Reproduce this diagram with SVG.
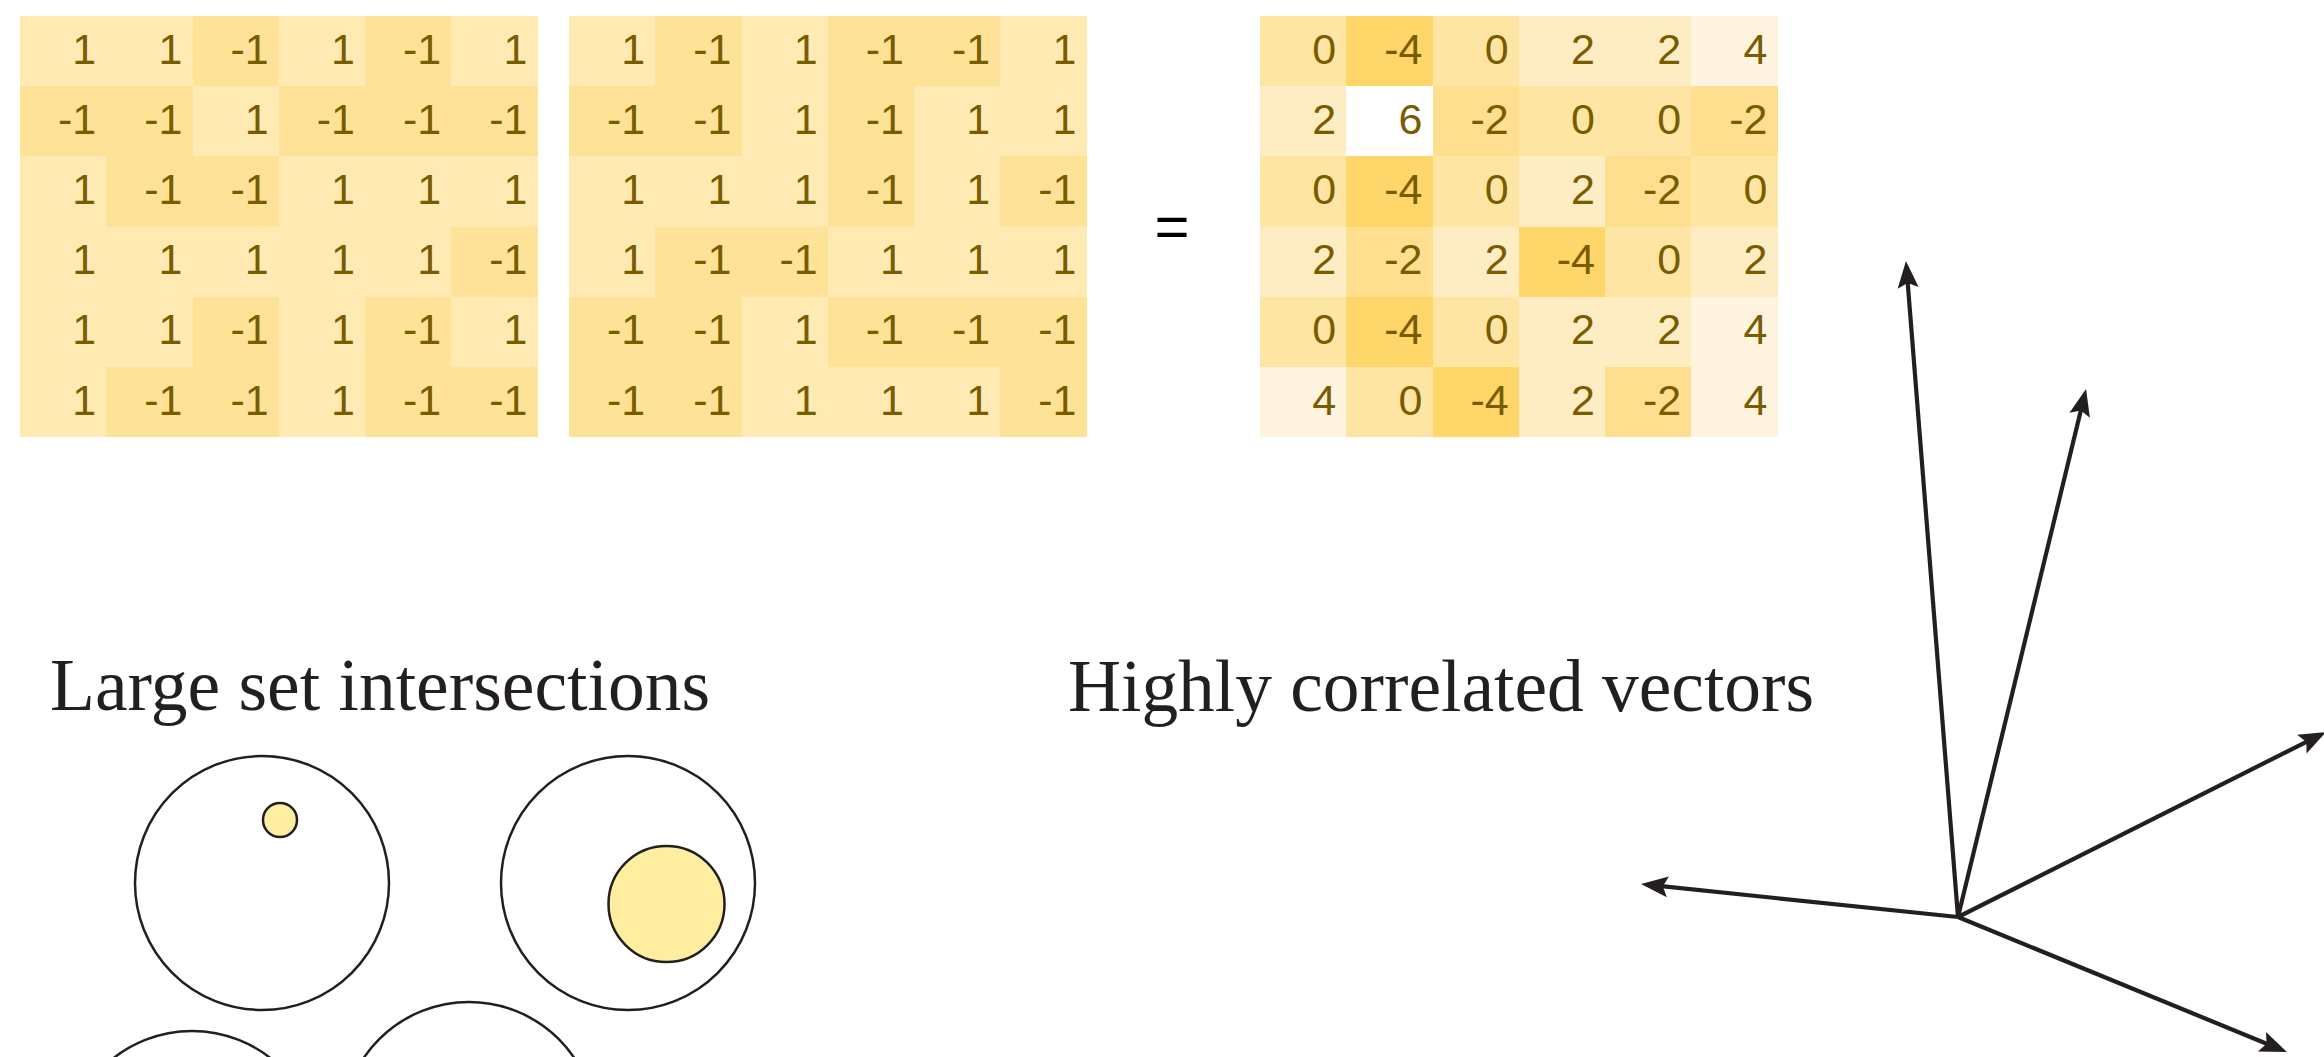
<svg xmlns="http://www.w3.org/2000/svg" width="2324" height="1057" viewBox="0 0 2324 1057">
<style>
.cells rect{shape-rendering:crispEdges}
.num{font-family:"Liberation Sans",Arial,sans-serif;font-size:43px;fill:#7a5c00;text-anchor:end}
.p{fill:#ffeab3}.n{fill:#fee297}
.v6{fill:#ffffff}.v4{fill:#fff4e0}.v2{fill:#feecc2}.v0{fill:#fee5a4}.vm2{fill:#fedf90}.vm4{fill:#ffd669}
.title{font-family:"Liberation Serif","Times New Roman",serif;font-size:73px;fill:#231f20}
.ring{fill:#ffffff;stroke:#231f20;stroke-width:2.5}
.dot{fill:#ffeda0;stroke:#231f20;stroke-width:2.5}
.vec{stroke:#231f20;stroke-width:4.2;fill:none;marker-end:url(#ah)}
</style>
<defs>
<marker id="ah" markerUnits="userSpaceOnUse" viewBox="-12 -12 34 24" markerWidth="34" markerHeight="24" refX="0" refY="0" orient="auto">
<path d="M18,0 L-9,-10.5 L-4,0 L-9,10.5 Z" fill="#231f20"/>
</marker>
</defs>
<rect width="2324" height="1057" fill="#ffffff"/>

<g id="matrixA" transform="translate(20,16)">
<g class="cells">
<rect class="p" x="0" y="0" width="86.25" height="70.2"/><rect class="p" x="86.25" y="0" width="86.25" height="70.2"/><rect class="n" x="172.5" y="0" width="86.25" height="70.2"/><rect class="p" x="258.75" y="0" width="86.25" height="70.2"/><rect class="n" x="345" y="0" width="86.25" height="70.2"/><rect class="p" x="431.25" y="0" width="86.25" height="70.2"/>
<rect class="n" x="0" y="70.2" width="86.25" height="70.2"/><rect class="n" x="86.25" y="70.2" width="86.25" height="70.2"/><rect class="p" x="172.5" y="70.2" width="86.25" height="70.2"/><rect class="n" x="258.75" y="70.2" width="86.25" height="70.2"/><rect class="n" x="345" y="70.2" width="86.25" height="70.2"/><rect class="n" x="431.25" y="70.2" width="86.25" height="70.2"/>
<rect class="p" x="0" y="140.4" width="86.25" height="70.2"/><rect class="n" x="86.25" y="140.4" width="86.25" height="70.2"/><rect class="n" x="172.5" y="140.4" width="86.25" height="70.2"/><rect class="p" x="258.75" y="140.4" width="86.25" height="70.2"/><rect class="p" x="345" y="140.4" width="86.25" height="70.2"/><rect class="p" x="431.25" y="140.4" width="86.25" height="70.2"/>
<rect class="p" x="0" y="210.6" width="86.25" height="70.2"/><rect class="p" x="86.25" y="210.6" width="86.25" height="70.2"/><rect class="p" x="172.5" y="210.6" width="86.25" height="70.2"/><rect class="p" x="258.75" y="210.6" width="86.25" height="70.2"/><rect class="p" x="345" y="210.6" width="86.25" height="70.2"/><rect class="n" x="431.25" y="210.6" width="86.25" height="70.2"/>
<rect class="p" x="0" y="280.8" width="86.25" height="70.2"/><rect class="p" x="86.25" y="280.8" width="86.25" height="70.2"/><rect class="n" x="172.5" y="280.8" width="86.25" height="70.2"/><rect class="p" x="258.75" y="280.8" width="86.25" height="70.2"/><rect class="n" x="345" y="280.8" width="86.25" height="70.2"/><rect class="p" x="431.25" y="280.8" width="86.25" height="70.2"/>
<rect class="p" x="0" y="351" width="86.25" height="70.2"/><rect class="n" x="86.25" y="351" width="86.25" height="70.2"/><rect class="n" x="172.5" y="351" width="86.25" height="70.2"/><rect class="p" x="258.75" y="351" width="86.25" height="70.2"/><rect class="n" x="345" y="351" width="86.25" height="70.2"/><rect class="n" x="431.25" y="351" width="86.25" height="70.2"/>
</g>
<g class="num">
<text x="76.25" y="47.5">1</text><text x="162.5" y="47.5">1</text><text x="248.75" y="47.5">-1</text><text x="335" y="47.5">1</text><text x="421.25" y="47.5">-1</text><text x="507.5" y="47.5">1</text>
<text x="76.25" y="117.7">-1</text><text x="162.5" y="117.7">-1</text><text x="248.75" y="117.7">1</text><text x="335" y="117.7">-1</text><text x="421.25" y="117.7">-1</text><text x="507.5" y="117.7">-1</text>
<text x="76.25" y="187.9">1</text><text x="162.5" y="187.9">-1</text><text x="248.75" y="187.9">-1</text><text x="335" y="187.9">1</text><text x="421.25" y="187.9">1</text><text x="507.5" y="187.9">1</text>
<text x="76.25" y="258.1">1</text><text x="162.5" y="258.1">1</text><text x="248.75" y="258.1">1</text><text x="335" y="258.1">1</text><text x="421.25" y="258.1">1</text><text x="507.5" y="258.1">-1</text>
<text x="76.25" y="328.3">1</text><text x="162.5" y="328.3">1</text><text x="248.75" y="328.3">-1</text><text x="335" y="328.3">1</text><text x="421.25" y="328.3">-1</text><text x="507.5" y="328.3">1</text>
<text x="76.25" y="398.5">1</text><text x="162.5" y="398.5">-1</text><text x="248.75" y="398.5">-1</text><text x="335" y="398.5">1</text><text x="421.25" y="398.5">-1</text><text x="507.5" y="398.5">-1</text>
</g>
</g>

<g id="matrixB" transform="translate(569,16)">
<g class="cells">
<rect class="p" x="0" y="0" width="86.25" height="70.2"/><rect class="n" x="86.25" y="0" width="86.25" height="70.2"/><rect class="p" x="172.5" y="0" width="86.25" height="70.2"/><rect class="n" x="258.75" y="0" width="86.25" height="70.2"/><rect class="n" x="345" y="0" width="86.25" height="70.2"/><rect class="p" x="431.25" y="0" width="86.25" height="70.2"/>
<rect class="n" x="0" y="70.2" width="86.25" height="70.2"/><rect class="n" x="86.25" y="70.2" width="86.25" height="70.2"/><rect class="p" x="172.5" y="70.2" width="86.25" height="70.2"/><rect class="n" x="258.75" y="70.2" width="86.25" height="70.2"/><rect class="p" x="345" y="70.2" width="86.25" height="70.2"/><rect class="p" x="431.25" y="70.2" width="86.25" height="70.2"/>
<rect class="p" x="0" y="140.4" width="86.25" height="70.2"/><rect class="p" x="86.25" y="140.4" width="86.25" height="70.2"/><rect class="p" x="172.5" y="140.4" width="86.25" height="70.2"/><rect class="n" x="258.75" y="140.4" width="86.25" height="70.2"/><rect class="p" x="345" y="140.4" width="86.25" height="70.2"/><rect class="n" x="431.25" y="140.4" width="86.25" height="70.2"/>
<rect class="p" x="0" y="210.6" width="86.25" height="70.2"/><rect class="n" x="86.25" y="210.6" width="86.25" height="70.2"/><rect class="n" x="172.5" y="210.6" width="86.25" height="70.2"/><rect class="p" x="258.75" y="210.6" width="86.25" height="70.2"/><rect class="p" x="345" y="210.6" width="86.25" height="70.2"/><rect class="p" x="431.25" y="210.6" width="86.25" height="70.2"/>
<rect class="n" x="0" y="280.8" width="86.25" height="70.2"/><rect class="n" x="86.25" y="280.8" width="86.25" height="70.2"/><rect class="p" x="172.5" y="280.8" width="86.25" height="70.2"/><rect class="n" x="258.75" y="280.8" width="86.25" height="70.2"/><rect class="n" x="345" y="280.8" width="86.25" height="70.2"/><rect class="n" x="431.25" y="280.8" width="86.25" height="70.2"/>
<rect class="n" x="0" y="351" width="86.25" height="70.2"/><rect class="n" x="86.25" y="351" width="86.25" height="70.2"/><rect class="p" x="172.5" y="351" width="86.25" height="70.2"/><rect class="p" x="258.75" y="351" width="86.25" height="70.2"/><rect class="p" x="345" y="351" width="86.25" height="70.2"/><rect class="n" x="431.25" y="351" width="86.25" height="70.2"/>
</g>
<g class="num">
<text x="76.25" y="47.5">1</text><text x="162.5" y="47.5">-1</text><text x="248.75" y="47.5">1</text><text x="335" y="47.5">-1</text><text x="421.25" y="47.5">-1</text><text x="507.5" y="47.5">1</text>
<text x="76.25" y="117.7">-1</text><text x="162.5" y="117.7">-1</text><text x="248.75" y="117.7">1</text><text x="335" y="117.7">-1</text><text x="421.25" y="117.7">1</text><text x="507.5" y="117.7">1</text>
<text x="76.25" y="187.9">1</text><text x="162.5" y="187.9">1</text><text x="248.75" y="187.9">1</text><text x="335" y="187.9">-1</text><text x="421.25" y="187.9">1</text><text x="507.5" y="187.9">-1</text>
<text x="76.25" y="258.1">1</text><text x="162.5" y="258.1">-1</text><text x="248.75" y="258.1">-1</text><text x="335" y="258.1">1</text><text x="421.25" y="258.1">1</text><text x="507.5" y="258.1">1</text>
<text x="76.25" y="328.3">-1</text><text x="162.5" y="328.3">-1</text><text x="248.75" y="328.3">1</text><text x="335" y="328.3">-1</text><text x="421.25" y="328.3">-1</text><text x="507.5" y="328.3">-1</text>
<text x="76.25" y="398.5">-1</text><text x="162.5" y="398.5">-1</text><text x="248.75" y="398.5">1</text><text x="335" y="398.5">1</text><text x="421.25" y="398.5">1</text><text x="507.5" y="398.5">-1</text>
</g>
</g>

<g id="equals">
<text x="1172" y="247" style="font-family:'Liberation Sans',Arial,sans-serif;font-size:60px;fill:#000;text-anchor:middle">=</text>
</g>

<g id="matrixC" transform="translate(1260,16)">
<g class="cells">
<rect class="v0" x="0" y="0" width="86.25" height="70.2"/><rect class="vm4" x="86.25" y="0" width="86.25" height="70.2"/><rect class="v0" x="172.5" y="0" width="86.25" height="70.2"/><rect class="v2" x="258.75" y="0" width="86.25" height="70.2"/><rect class="v2" x="345" y="0" width="86.25" height="70.2"/><rect class="v4" x="431.25" y="0" width="86.25" height="70.2"/>
<rect class="v2" x="0" y="70.2" width="86.25" height="70.2"/><rect class="v6" x="86.25" y="70.2" width="86.25" height="70.2"/><rect class="vm2" x="172.5" y="70.2" width="86.25" height="70.2"/><rect class="v0" x="258.75" y="70.2" width="86.25" height="70.2"/><rect class="v0" x="345" y="70.2" width="86.25" height="70.2"/><rect class="vm2" x="431.25" y="70.2" width="86.25" height="70.2"/>
<rect class="v0" x="0" y="140.4" width="86.25" height="70.2"/><rect class="vm4" x="86.25" y="140.4" width="86.25" height="70.2"/><rect class="v0" x="172.5" y="140.4" width="86.25" height="70.2"/><rect class="v2" x="258.75" y="140.4" width="86.25" height="70.2"/><rect class="vm2" x="345" y="140.4" width="86.25" height="70.2"/><rect class="v0" x="431.25" y="140.4" width="86.25" height="70.2"/>
<rect class="v2" x="0" y="210.6" width="86.25" height="70.2"/><rect class="vm2" x="86.25" y="210.6" width="86.25" height="70.2"/><rect class="v2" x="172.5" y="210.6" width="86.25" height="70.2"/><rect class="vm4" x="258.75" y="210.6" width="86.25" height="70.2"/><rect class="v0" x="345" y="210.6" width="86.25" height="70.2"/><rect class="v2" x="431.25" y="210.6" width="86.25" height="70.2"/>
<rect class="v0" x="0" y="280.8" width="86.25" height="70.2"/><rect class="vm4" x="86.25" y="280.8" width="86.25" height="70.2"/><rect class="v0" x="172.5" y="280.8" width="86.25" height="70.2"/><rect class="v2" x="258.75" y="280.8" width="86.25" height="70.2"/><rect class="v2" x="345" y="280.8" width="86.25" height="70.2"/><rect class="v4" x="431.25" y="280.8" width="86.25" height="70.2"/>
<rect class="v4" x="0" y="351" width="86.25" height="70.2"/><rect class="v0" x="86.25" y="351" width="86.25" height="70.2"/><rect class="vm4" x="172.5" y="351" width="86.25" height="70.2"/><rect class="v2" x="258.75" y="351" width="86.25" height="70.2"/><rect class="vm2" x="345" y="351" width="86.25" height="70.2"/><rect class="v4" x="431.25" y="351" width="86.25" height="70.2"/>
</g>
<g class="num">
<text x="76.25" y="47.5">0</text><text x="162.5" y="47.5">-4</text><text x="248.75" y="47.5">0</text><text x="335" y="47.5">2</text><text x="421.25" y="47.5">2</text><text x="507.5" y="47.5">4</text>
<text x="76.25" y="117.7">2</text><text x="162.5" y="117.7">6</text><text x="248.75" y="117.7">-2</text><text x="335" y="117.7">0</text><text x="421.25" y="117.7">0</text><text x="507.5" y="117.7">-2</text>
<text x="76.25" y="187.9">0</text><text x="162.5" y="187.9">-4</text><text x="248.75" y="187.9">0</text><text x="335" y="187.9">2</text><text x="421.25" y="187.9">-2</text><text x="507.5" y="187.9">0</text>
<text x="76.25" y="258.1">2</text><text x="162.5" y="258.1">-2</text><text x="248.75" y="258.1">2</text><text x="335" y="258.1">-4</text><text x="421.25" y="258.1">0</text><text x="507.5" y="258.1">2</text>
<text x="76.25" y="328.3">0</text><text x="162.5" y="328.3">-4</text><text x="248.75" y="328.3">0</text><text x="335" y="328.3">2</text><text x="421.25" y="328.3">2</text><text x="507.5" y="328.3">4</text>
<text x="76.25" y="398.5">4</text><text x="162.5" y="398.5">0</text><text x="248.75" y="398.5">-4</text><text x="335" y="398.5">2</text><text x="421.25" y="398.5">-2</text><text x="507.5" y="398.5">4</text>
</g>
</g>

<g id="title-sets">
<text class="title" x="50" y="710" textLength="660" lengthAdjust="spacingAndGlyphs">Large set intersections</text>
</g>
<g id="title-vectors">
<text class="title" x="1068" y="711" textLength="746" lengthAdjust="spacingAndGlyphs">Highly correlated vectors</text>
</g>

<g id="set-1">
<circle class="ring" cx="262" cy="883" r="127"/>
<circle class="dot" cx="280" cy="820" r="17"/>
</g>
<g id="set-2">
<circle class="ring" cx="628" cy="883" r="127"/>
<circle class="dot" cx="666.5" cy="904" r="58"/>
</g>
<g id="set-3">
<circle class="ring" cx="192" cy="1158" r="127"/>
</g>
<g id="set-4">
<circle class="ring" cx="469" cy="1129" r="127"/>
</g>

<g id="vectors">
<line class="vec" x1="1958" y1="917" x2="1907.4" y2="278.9"/>
<line class="vec" x1="1958" y1="917" x2="2081.8" y2="406.5"/>
<line class="vec" x1="1958" y1="917" x2="2309.9" y2="740.1"/>
<line class="vec" x1="1958" y1="917" x2="2270.3" y2="1045.2"/>
<line class="vec" x1="1958" y1="917" x2="1658.9" y2="885.9"/>
</g>
</svg>
